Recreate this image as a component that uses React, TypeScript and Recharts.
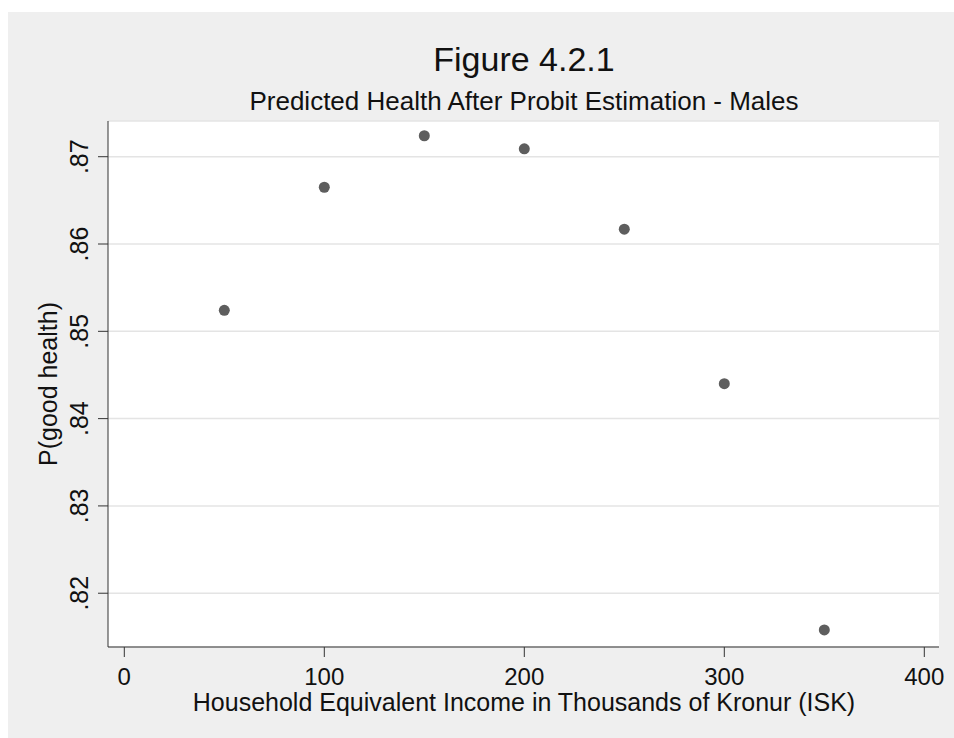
import {
  ScatterChart,
  Scatter,
  XAxis,
  YAxis,
  CartesianGrid,
  Customized,
} from 'recharts'

const incomes = [50, 100, 150, 200, 250, 300, 350]
const pGoodHealth = [0.8524, 0.8665, 0.8724, 0.8709, 0.8617, 0.844, 0.8158]
const xTicks = [0, 100, 200, 300, 400]
const yTicks = [0.82, 0.83, 0.84, 0.85, 0.86, 0.87]

const title = 'Figure 4.2.1'
const subtitle = 'Predicted Health After Probit Estimation - Males'
const xTitle = 'Household Equivalent Income in Thousands of Kronur (ISK)'
const yTitle = 'P(good health)'

const FONT = '"Liberation Sans", Arial, sans-serif'

const data = incomes.map((income, i) => ({ income, p: pGoodHealth[i] }))

const fmtY = (v: number) => v.toFixed(2).replace(/^0/, '')

function XTick({ x, y, payload }: any) {
  return (
    <text x={x} y={y + 26} textAnchor="middle" fontSize={24} fontFamily={FONT} fill="#111">
      {payload.value}
    </text>
  )
}

function YTick({ x, y, payload }: any) {
  const bx = x - 8
  return (
    <text
      x={bx}
      y={y}
      transform={`rotate(-90, ${bx}, ${y})`}
      textAnchor="middle"
      fontSize={25}
      fontFamily={FONT}
      fill="#111"
    >
      {fmtY(payload.value)}
    </text>
  )
}

function Dot({ cx, cy }: any) {
  return <circle cx={cx} cy={cy} r={5.5} fill="#5e5e5e" />
}

function Titles() {
  return (
    <g fontFamily={FONT} fill="#111">
      <text x={516} y={59} textAnchor="middle" fontSize={34}>
        {title}
      </text>
      <text x={516} y={98} textAnchor="middle" fontSize={26}>
        {subtitle}
      </text>
      <text x={516} y={699} textAnchor="middle" fontSize={25}>
        {xTitle}
      </text>
      <text x={49} y={372} transform="rotate(-90, 49, 372)" textAnchor="middle" fontSize={25}>
        {yTitle}
      </text>
    </g>
  )
}

export default function App() {
  return (
    <div style={{ position: 'absolute', left: 8, top: 12, width: 946, height: 726, background: '#efefef' }}>
      <ScatterChart width={946} height={726} margin={{ top: 109, right: 15, left: 0, bottom: 0 }}>
        <CartesianGrid vertical={false} fill="#ffffff" stroke="#e4e4e4" strokeWidth={1.5} />
        <XAxis
          dataKey="income"
          type="number"
          domain={[-8.15, 407.35]}
          ticks={xTicks}
          allowDataOverflow
          height={91}
          tickSize={10}
          stroke="#333"
          tick={<XTick />}
        />
        <YAxis
          dataKey="p"
          type="number"
          domain={[0.81384, 0.87409]}
          ticks={yTicks}
          allowDataOverflow
          width={100}
          tickSize={10}
          stroke="#333"
          tick={<YTick />}
        />
        <Scatter data={data} shape={<Dot />} isAnimationActive={false} />
        <Customized component={<Titles />} />
      </ScatterChart>
    </div>
  )
}
